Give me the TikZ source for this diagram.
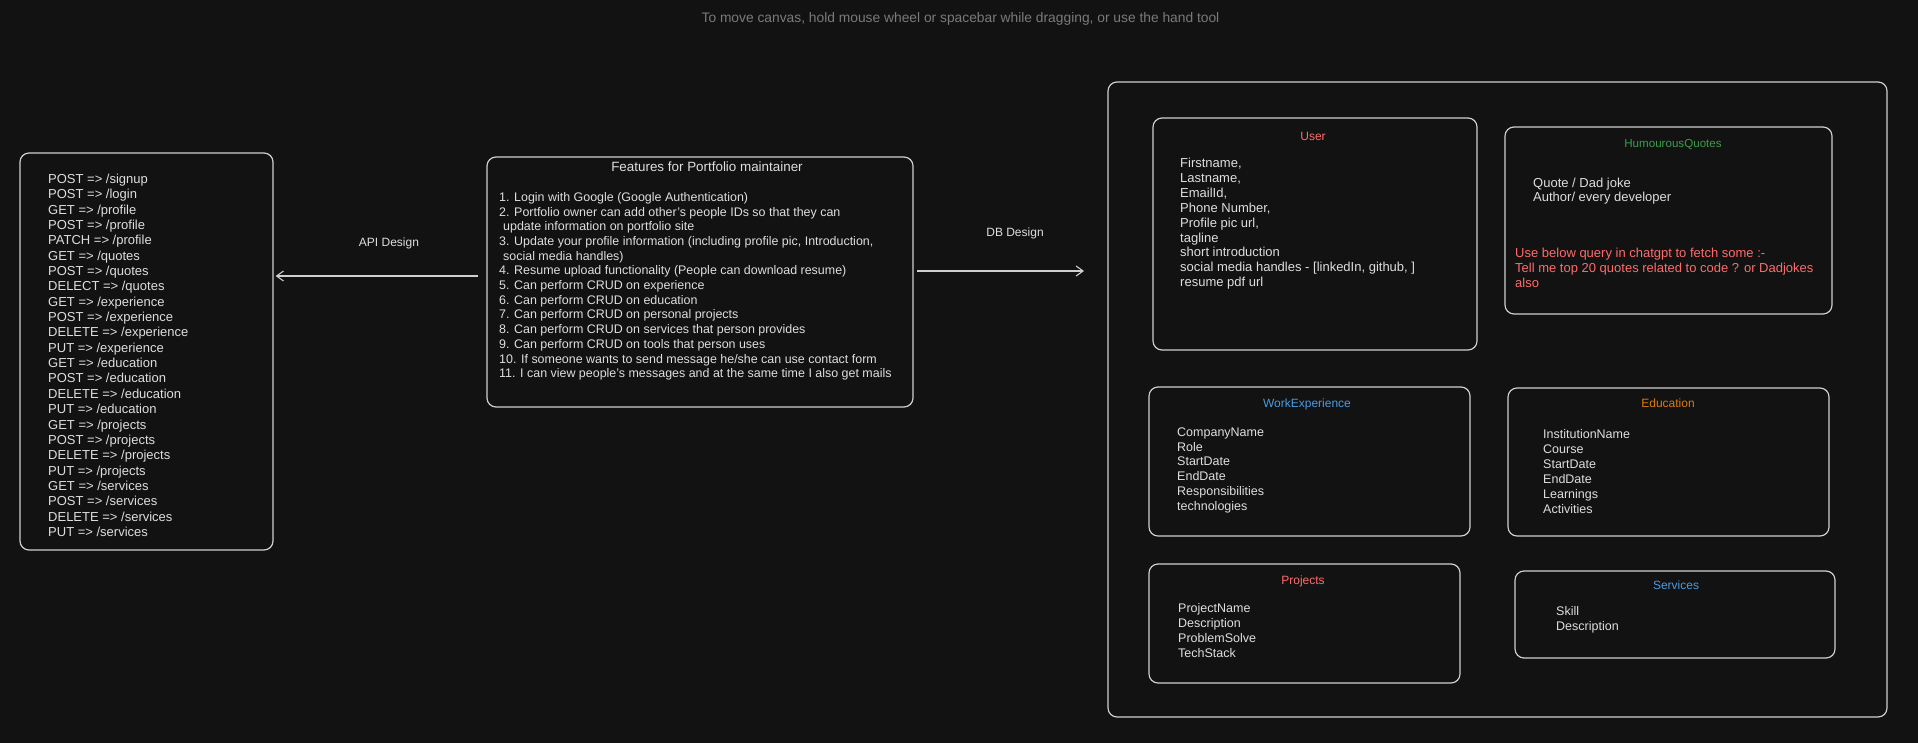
\documentclass[tikz,border=0pt]{standalone}
\usepackage{fontspec}
\setmainfont{Liberation Sans}
\usetikzlibrary{arrows.meta,calc}
\definecolor{bg}{HTML}{121212}
\definecolor{strokec}{HTML}{CFCFCF}
\definecolor{txtc}{HTML}{DEDEDE}
\definecolor{hintc}{HTML}{7A7A7A}
\definecolor{redc}{HTML}{FF6B6B}
\definecolor{greenc}{HTML}{3A9E4A}
\definecolor{bluec}{HTML}{4A9BE0}
\definecolor{orangec}{HTML}{D97A12}
\begin{document}
\begin{tikzpicture}[x=1pt,y=-1pt,
  box/.style={draw=strokec, line width=1.2pt, rounded corners=9pt, inner sep=0pt},
  body/.style={anchor=north west, inner sep=0pt, align=left, text=txtc},
  title/.style={inner sep=0pt, text height=0.72em, text depth=0pt},
  lbl/.style={inner sep=0pt, text=txtc, font=\fontsize{12}{14}\selectfont},
  arr/.style={draw=strokec, line width=1.1pt, -{Straight Barb[length=7pt,width=10pt]}}
]
\fill[bg] (0,0) rectangle (1918,743);
\useasboundingbox (0,0) rectangle (1918,743);

\node[text=hintc, inner sep=0pt, font=\fontsize{13.8}{16}\selectfont] (hint) at (960.5,19) {To move canvas, hold mouse wheel or spacebar while dragging, or use the hand tool};

% boxes
\node[box, minimum width=253pt, minimum height=397pt] (api) at (146.5,351.5) {};
\node[box, minimum width=426pt, minimum height=250pt] (feat) at (700,282) {};
\node[box, minimum width=779pt, minimum height=635pt] (db) at (1497.5,399.5) {};
\node[box, minimum width=324pt, minimum height=232pt] (user) at (1315,234) {};
\node[box, minimum width=327pt, minimum height=187pt] (hq) at (1668.5,220.5) {};
\node[box, minimum width=321pt, minimum height=149pt] (work) at (1309.5,461.5) {};
\node[box, minimum width=321pt, minimum height=148pt] (edu) at (1668.5,462) {};
\node[box, minimum width=311pt, minimum height=119pt] (proj) at (1304.5,623.5) {};
\node[box, minimum width=320pt, minimum height=87pt] (serv) at (1675,614.5) {};

% API list
\node[body, font=\fontsize{13}{15.35}\selectfont] (apitxt) at (48,172.5) {\strut POST => /signup\\
POST => /login\\
GET => /profile\\
POST => /profile\\
PATCH => /profile\\
GET => /quotes\\
POST => /quotes\\
DELECT => /quotes\\
GET => /experience\\
POST => /experience\\
DELETE => /experience\\
PUT => /experience\\
GET => /education\\
POST => /education\\
DELETE => /education\\
PUT => /education\\
GET => /projects\\
POST => /projects\\
DELETE => /projects\\
PUT => /projects\\
GET => /services\\
POST => /services\\
DELETE => /services\\
PUT => /services};

% Features
\node[title, text=txtc, font=\fontsize{13.4}{15}\selectfont] (feattitle) at (707,168) {Features for Portfolio maintainer};
\node[body, font=\fontsize{12.45}{14.7}\selectfont] (feattxt) at (499,190.9) {\strut 1. Login with Google (Google Authentication)\\
2. Portfolio owner can add other's people IDs so that they can\\
\hspace{4pt}update information on portfolio site\\
3. Update your profile information (including profile pic, Introduction,\\
\hspace{4pt}social media handles)\\
4. Resume upload functionality (People can download resume)\\
5. Can perform CRUD on experience\\
6. Can perform CRUD on education\\
7. Can perform CRUD on personal projects\\
8. Can perform CRUD on services that person provides\\
9. Can perform CRUD on tools that person uses\\
10. If someone wants to send message he/she can use contact form\\
11. I can view people's messages and at the same time I also get mails};

% connectors
\coordinate (apiS) at (478,276);
\draw[arr, shorten >=2pt] (apiS) -- (apiS -| api.east);
\node[lbl] (apilbl) at (389,243) {API Design};
\coordinate (dbS) at (917,271);
\coordinate (dbT) at (1084,271);
\draw[arr] (dbS) -- (dbT);
\node[lbl] (dblbl) at (1015,233) {DB Design};

% User
\node[title, text=redc, font=\fontsize{12}{14}\selectfont] (usert) at (1313,137) {User};
\node[body, font=\fontsize{13}{14.9}\selectfont] (usertxt) at (1180,156.9) {\strut Firstname,\\
Lastname,\\
EmailId,\\
Phone Number,\\
Profile pic url,\\
tagline\\
short introduction\\
social media handles - [linkedIn, github, ]\\
resume pdf url};

% HumourousQuotes
\node[title, text=greenc, font=\fontsize{11.6}{14}\selectfont] (hqt) at (1673,144) {HumourousQuotes};
\node[body, font=\fontsize{13}{14.5}\selectfont] (hqtxt) at (1533,177.1) {\strut Quote / Dad joke\\
Author/ every developer};
\node[body, text=redc, font=\fontsize{13}{15}\selectfont] (hqnote) at (1515,246.8) {\strut Use below query in chatgpt to fetch some :-\\
Tell me top 20 quotes related to code ? or Dadjokes\\
also};

% WorkExperience
\node[title, text=bluec, font=\fontsize{12}{14}\selectfont] (workt) at (1307,404) {WorkExperience};
\node[body, font=\fontsize{12.5}{14.8}\selectfont] (worktxt) at (1177,425.8) {\strut CompanyName\\
Role\\
StartDate\\
EndDate\\
Responsibilities\\
technologies};

% Education
\node[title, text=orangec, font=\fontsize{12}{14}\selectfont] (edut) at (1668,404) {Education};
\node[body, font=\fontsize{12.5}{15}\selectfont] (edutxt) at (1543,427.6) {\strut InstitutionName\\
Course\\
StartDate\\
EndDate\\
Learnings\\
Activities};

% Projects
\node[title, text=redc, font=\fontsize{12}{14}\selectfont] (projt) at (1303,581) {Projects};
\node[body, font=\fontsize{12.5}{15}\selectfont] (projtxt) at (1178,601.6) {\strut ProjectName\\
Description\\
ProblemSolve\\
TechStack};

% Services
\node[title, text=bluec, font=\fontsize{12}{14}\selectfont] (servt) at (1676,586) {Services};
\node[body, font=\fontsize{12.5}{15.5}\selectfont] (servtxt) at (1556,604.3) {\strut Skill\\
Description};
\end{tikzpicture}
\end{document}
